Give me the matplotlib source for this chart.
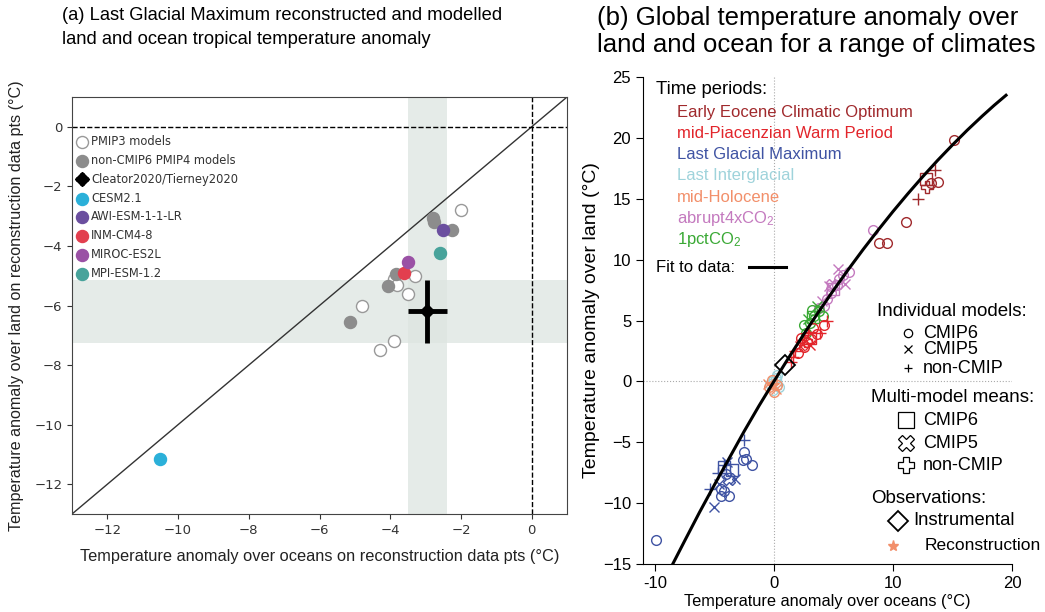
import matplotlib
matplotlib.use("Agg")
import matplotlib.pyplot as plt

plt.rcParams['font.family'] = ['Liberation Sans', 'DejaVu Sans']

# ---------------------------------------------------------------------------
# Panel (a): tropical LGM anomalies (ocean, land)
pmip3_x = [-2.0, -3.3, -3.9, -3.8, -3.5, -4.8, -3.9, -4.3]
pmip3_y = [-2.8, -5.0, -5.1, -5.3, -5.6, -6.0, -7.2, -7.5]
pmip4_x = [-2.8, -2.75, -2.25, -3.85, -4.05, -5.15]
pmip4_y = [-3.05, -3.2, -3.45, -4.95, -5.35, -6.55]
named_models = ['CESM2.1', 'AWI-ESM-1-1-LR', 'INM-CM4-8', 'MIROC-ES2L', 'MPI-ESM-1.2']
named_x = [-10.5, -2.5, -3.6, -3.5, -2.6]
named_y = [-11.15, -3.45, -4.9, -4.55, -4.25]
named_colors = ['#2bb0d9', '#6b4f9f', '#e23f4f', '#9a51a5', '#48a39b']
recon_x, recon_y = -2.95, -6.2
recon_xerr = [-3.5, -2.4]
recon_yerr = [-7.25, -5.15]

# ---------------------------------------------------------------------------
# Panel (b): global anomaly over land vs ocean, (x, y) pairs
eeco_cmip6 = [(15.1, 19.8), (13.2, 16.3), (13.8, 16.4), (11.1, 13.1), (8.8, 11.4), (9.5, 11.4)]
eeco_noncmip = [(13.5, 17.4), (12.1, 15.0)]
eeco_mean6 = [(12.8, 16.6)]
eeco_meannon = [(12.9, 16.0)]

mpwp_cmip6 = [(2.0, 2.3), (2.5, 2.8), (3.1, 3.5), (3.6, 3.9), (2.8, 3.2), (4.2, 4.6), (3.3, 4.4), (2.3, 3.6)]
mpwp_cmip5 = [(2.2, 2.9), (3.0, 3.0)]
mpwp_noncmip = [(1.6, 2.0), (1.8, 2.5), (2.4, 3.4), (3.9, 4.0), (4.5, 5.0), (2.9, 4.0), (1.4, 1.6)]
mpwp_mean6 = [(3.0, 3.6)]
mpwp_meannon = [(2.7, 3.3)]

pct_cmip6 = [(2.5, 4.6), (3.0, 4.8), (3.4, 5.4), (3.8, 5.8), (4.1, 5.4), (2.7, 4.0), (3.2, 5.9)]
pct_cmip5 = [(3.6, 6.2), (2.9, 5.1)]
pct_mean6 = [(3.3, 5.3)]

abr_cmip6 = [(4.2, 6.2), (4.8, 7.3), (5.3, 7.9), (5.8, 8.7), (6.3, 9.0), (8.3, 12.4), (4.5, 6.8), (5.5, 8.4), (3.8, 6.0)]
abr_cmip5 = [(5.4, 9.2), (4.6, 7.8), (4.0, 6.6), (6.0, 8.0)]
abr_mean6 = [(5.0, 7.6)]
abr_mean5 = [(4.9, 7.9)]

lig_cmip6 = [(-0.3, -0.2), (0.2, 0.3), (0.4, -0.5), (-0.1, -0.7), (0.3, 0.5)]
lig_mean6 = [(0.1, -0.1)]
mh_cmip6 = [(-0.4, -0.5), (0.0, -0.9), (-0.2, 0.1), (0.3, -0.3)]
mh_cmip5 = [(-0.5, -0.2), (0.2, -0.6)]
mh_recon = [(-0.1, -0.3)]

lgm_cmip6 = [(-9.9, -13.0), (-4.45, -8.8), (-4.2, -9.0), (-3.8, -9.4), (-4.45, -9.4), (-2.5, -5.8),
             (-2.35, -6.4), (-2.6, -6.45), (-1.8, -6.9), (-4.0, -7.6)]
lgm_cmip5 = [(-5.0, -10.3), (-3.3, -8.0), (-3.9, -6.6), (-4.6, -8.4)]
lgm_noncmip = [(-5.4, -8.8), (-4.2, -6.9), (-2.5, -4.85), (-4.7, -7.5)]
lgm_mean6 = [(-4.2, -7.05), (-3.5, -7.3)]
lgm_mean5 = [(-3.8, -8.0)]

instrumental = (0.9, 1.35)

# fit to data
fit_x = [-8.5, -7.5, -6.25, -5.0, -3.75, -2.5, -1.25, 0.0, 1.25, 2.5, 3.75, 5.0, 6.25, 7.5,
         8.75, 10.0, 11.25, 12.5, 13.75, 15.0, 16.25, 17.5, 18.5, 19.5]
fit_y = [-15.0, -13.1, -10.75, -8.5, -6.3, -4.1, -2.0, 0.0, 1.96, 3.86, 5.7, 7.48, 9.19, 10.84,
         12.42, 13.95, 15.41, 16.81, 18.15, 19.42, 20.64, 21.79, 22.67, 23.5]

period_names = ['Early Eocene Climatic Optimum', 'mid-Piacenzian Warm Period',
                'Last Glacial Maximum', 'Last Interglacial', 'mid-Holocene',
                r'abrupt4xCO$\mathregular{_2}$', r'1pctCO$\mathregular{_2}$']
period_colors = ['#a0292c', '#e2252b', '#3f53a3', '#9fd3db', '#f28f6a', '#c47abf', '#3aa935']

fig = plt.figure(figsize=(10.45, 6.12), dpi=100)

# ----------------------------- panel (a) -----------------------------------
ax1 = fig.add_axes([0.0689, 0.1601, 0.4737, 0.6814])
band = '#dde5e1'
ax1.axvspan(recon_xerr[0], recon_xerr[1], color=band, alpha=0.75, lw=0, zorder=0)
ax1.axhspan(recon_yerr[0], recon_yerr[1], color=band, alpha=0.75, lw=0, zorder=0)
ax1.plot([-13, 1], [-13, 1], color='#333333', lw=1, zorder=1)
ax1.axhline(0, color='black', ls='--', lw=1, zorder=1)
ax1.axvline(0, color='black', ls='--', lw=1, zorder=1)

ax1.scatter(pmip3_x, pmip3_y, s=75, facecolor='white', edgecolor='#999999', lw=1,
            zorder=3, label='PMIP3 models')
ax1.scatter(pmip4_x, pmip4_y, s=75, color='#8c8c8c', zorder=3, label='non-CMIP6 PMIP4 models')
ax1.errorbar(recon_x, recon_y,
             xerr=[[recon_x - recon_xerr[0]], [recon_xerr[1] - recon_x]],
             yerr=[[recon_y - recon_yerr[0]], [recon_yerr[1] - recon_y]],
             fmt='D', color='black', ms=7, elinewidth=3.5, capsize=0, zorder=4,
             label='Cleator2020/Tierney2020')
for name, x, y, c in zip(named_models, named_x, named_y, named_colors):
    ax1.scatter(x, y, s=75, color=c, zorder=3, label=name)

ax1.set_xlim(-13, 1)
ax1.set_ylim(-13, 1)
ax1.set_xticks(range(-12, 1, 2))
ax1.set_yticks(range(-12, 1, 2))
for lab in ax1.get_xticklabels() + ax1.get_yticklabels():
    lab.set_family('DejaVu Sans')
ax1.tick_params(labelsize=9.5, colors='#333333', labelcolor='#333333')
for sp in ax1.spines.values():
    sp.set_color('#444444')
ax1.set_xlabel('Temperature anomaly over oceans on reconstruction data pts (°C)',
               fontsize=11.8, color='#222222', labelpad=9)
ax1.set_ylabel('Temperature anomaly over land on reconstruction data pts (°C)',
               fontsize=11.6, color='#222222', labelpad=7)

handles, labels = ax1.get_legend_handles_labels()
order = [0, 1, 7, 2, 3, 4, 5, 6]
ax1.legend([handles[i] for i in order], [labels[i] for i in order],
           loc='upper left', bbox_to_anchor=(-0.015, 0.933), frameon=False,
           prop={'family': 'DejaVu Sans', 'size': 8.3}, handletextpad=0.2,
           labelspacing=0.5, handlelength=1.2, labelcolor='#333333')

fig.text(0.059, 0.988, '(a) Last Glacial Maximum reconstructed and modelled\n'
         'land and ocean tropical temperature anomaly',
         fontsize=13.2, va='top', ha='left', linespacing=1.48)

# ----------------------------- panel (b) -----------------------------------
ax2 = fig.add_axes([0.6153, 0.0784, 0.3531, 0.7958])
ax2.axhline(0, color='#aaaaaa', ls=':', lw=0.8, zorder=0)
ax2.axvline(0, color='#aaaaaa', ls=':', lw=0.8, zorder=0)

def pts(data, marker, color, ms=7, mew=1):
    xs = [p[0] for p in data]
    ys = [p[1] for p in data]
    ax2.plot(xs, ys, ls='none', marker=marker, ms=ms, mfc='none', mec=color, mew=mew, zorder=3)

c_ee, c_mp, c_lgm, c_lig, c_mh, c_abr, c_pct = period_colors
pts(abr_cmip6, 'o', c_abr); pts(abr_cmip5, 'x', c_abr); pts(abr_mean6, 's', c_abr, 9)
pts(abr_mean5, 'X', c_abr, 9)
pts(pct_cmip6, 'o', c_pct); pts(pct_cmip5, 'x', c_pct); pts(pct_mean6, 's', c_pct, 9)
pts(mpwp_cmip6, 'o', c_mp); pts(mpwp_cmip5, 'x', c_mp); pts(mpwp_noncmip, '+', c_mp, 8)
pts(mpwp_mean6, 's', c_mp, 9); pts(mpwp_meannon, 'P', c_mp, 9)
pts(eeco_cmip6, 'o', c_ee); pts(eeco_noncmip, '+', c_ee, 8)
pts(eeco_mean6, 's', c_ee, 9); pts(eeco_meannon, 'P', c_ee, 9)
pts(lig_cmip6, 'o', c_lig); pts(lig_mean6, 's', c_lig, 9)
pts(mh_cmip6, 'o', c_mh); pts(mh_cmip5, 'x', c_mh)
ax2.plot([p[0] for p in mh_recon], [p[1] for p in mh_recon], ls='none', marker='*',
         ms=9, color=c_mh, zorder=3)
pts(lgm_cmip6, 'o', c_lgm); pts(lgm_cmip5, 'x', c_lgm); pts(lgm_noncmip, '+', c_lgm, 8)
pts(lgm_mean6, 's', c_lgm, 9); pts(lgm_mean5, 'X', c_lgm, 9)

ax2.plot(fit_x, fit_y, color='black', lw=2.2, zorder=4)
ax2.plot(instrumental[0], instrumental[1], ls='none', marker='D', ms=10, mfc='none',
         mec='black', mew=1.3, zorder=5)

ax2.set_xlim(-11, 20)
ax2.set_ylim(-15, 25)
ax2.set_xticks([-10, 0, 10, 20])
ax2.set_xticklabels(['-10', '0', '10', '20'])
ax2.set_yticks(range(-15, 26, 5))
ax2.spines['top'].set_visible(False)
ax2.spines['right'].set_visible(False)
ax2.tick_params(labelsize=12, length=5)
ax2.set_xlabel('Temperature anomaly over oceans (°C)', fontsize=11.8, labelpad=2)
ax2.set_ylabel('Temperature anomaly over land (°C)', fontsize=14, labelpad=2)

# key text, laid out in data coordinates
kw = dict(va='center', ha='left', clip_on=False)
ax2.text(-9.9, 23.95, 'Time periods:', fontsize=13.3, **kw)
for i, (name, c) in enumerate(zip(period_names, period_colors)):
    ax2.text(-8.15, 22.06 - 1.73 * i, name, color=c, fontsize=12, **kw)
ax2.text(-9.9, 9.38, 'Fit to data:', fontsize=12, **kw)
ax2.plot([-2.1, 1.0], [9.38, 9.38], color='black', lw=2.2)

ax2.text(8.66, 5.76, 'Individual models:', fontsize=13.5, **kw)
for y, m, lab in [(3.95, 'o', 'CMIP6'), (2.63, 'x', 'CMIP5'), (1.07, '+', 'non-CMIP')]:
    ax2.plot(11.3, y, marker=m, ms=6, mfc='none', mec='black', mew=0.9, clip_on=False)
    ax2.text(12.5, y, lab, fontsize=13, **kw)
ax2.text(8.15, -1.32, 'Multi-model means:', fontsize=13.5, **kw)
for y, m, lab in [(-3.21, 's', 'CMIP6'), (-5.1, 'X', 'CMIP5'), (-6.9, 'P', 'non-CMIP')]:
    ax2.plot(11.1, y, marker=m, ms=12, mfc='none', mec='black', mew=0.9, clip_on=False)
    ax2.text(12.5, y, lab, fontsize=13, **kw)
ax2.text(8.15, -9.63, 'Observations:', fontsize=13.5, **kw)
ax2.plot(10.4, -11.44, marker='D', ms=10, mfc='none', mec='black', mew=1.3, clip_on=False)
ax2.text(11.7, -11.44, 'Instrumental', fontsize=13.3, **kw)
ax2.plot(10.0, -13.5, marker='*', ms=8, color=c_mh, clip_on=False)
ax2.text(12.7, -13.5, 'Reconstruction', fontsize=12.5, **kw)

fig.text(0.571, 0.99, '(b) Global temperature anomaly over\n'
         'land and ocean for a range of climates',
         fontsize=18.5, va='top', ha='left', linespacing=1.15)

fig.savefig('out.png', dpi=100)
